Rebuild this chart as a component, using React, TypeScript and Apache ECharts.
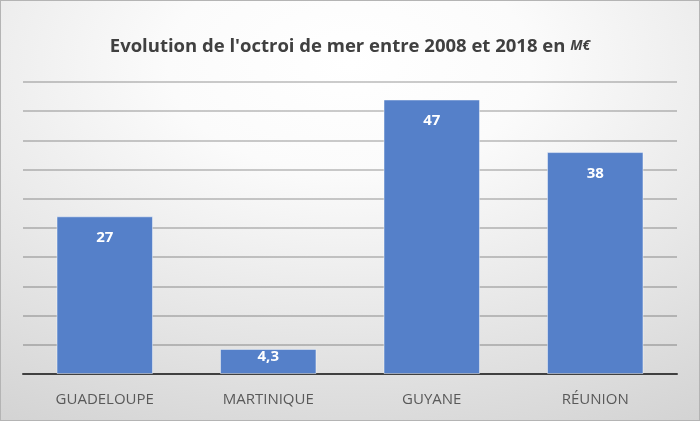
import React, { useEffect, useRef } from "react";
import * as echarts from "echarts";

const categories = ["GUADELOUPE", "MARTINIQUE", "GUYANE", "RÉUNION"];
const values = [27, 4.3, 47, 38];
const titleText = "Evolution de l'octroi de mer entre 2008 et 2018 en ";
const titleUnit = "M€";
const yMin = 0;
const yMax = 50;
const yInterval = 5;

export default function App() {
  const ref = useRef<HTMLDivElement>(null);
  useEffect(() => {
    if (!ref.current) return;
    const chart = echarts.init(ref.current, undefined, { renderer: "svg" });
    const font = "'Open Sans', 'Liberation Sans', sans-serif";
    chart.setOption({
      animation: false,
      title: {
        text: "{a|" + titleText + "}{b|" + titleUnit + "}",
        left: "center",
        top: 30,
        textStyle: {
          rich: {
            a: { fontFamily: font, fontSize: 18.5, fontWeight: "bold", color: "#404040" },
            b: { fontFamily: font, fontSize: 14, fontStyle: "italic", fontWeight: "bold", color: "#404040" },
          },
        },
      },
      graphic: [
        {
          type: "rect",
          z: -10,
          silent: true,
          shape: { x: 0, y: 0, width: 700, height: 421 },
          style: {
            fill: new echarts.graphic.RadialGradient(0.5, 0.15, 1.3, [
              { offset: 0, color: "#ffffff" },
              { offset: 0.2, color: "#fbfbfb" },
              { offset: 1, color: "#c2c2c2" },
            ]),
            stroke: "#b4b4b4",
            lineWidth: 2,
          },
        },
      ],
      grid: { left: 23, right: 23, top: 82, bottom: 47, containLabel: false },
      xAxis: {
        type: "category",
        data: categories,
        axisLine: { lineStyle: { color: "#404040", width: 2 } },
        axisTick: { show: false },
        axisLabel: { fontFamily: font, fontSize: 15, color: "#595959", margin: 16 },
      },
      yAxis: {
        type: "value",
        min: yMin,
        max: yMax,
        interval: yInterval,
        axisLabel: { show: false },
        axisLine: { show: false },
        axisTick: { show: false },
        splitLine: { lineStyle: { color: "rgba(0,0,0,0.2)", width: 2 } },
      },
      series: [
        {
          type: "bar",
          barWidth: "59%",
          data: values.map((v) => ({
            value: v,
            label: v < 10 ? { position: "insideTop", distance: -1 } : undefined,
          })),
          itemStyle: {
            color: "#5580c9",
            borderColor: "rgba(255,255,255,0.45)",
            borderWidth: 1,
          },
          label: {
            show: true,
            position: "insideTop",
            distance: 12,
            fontFamily: font,
            fontSize: 15,
            fontWeight: "bold",
            color: "#ffffff",
            formatter: (p: any) => String(p.value).replace(".", ","),
          },
        },
      ],
    });
    return () => chart.dispose();
  }, []);
  return (
    <div
      ref={ref}
      style={{ position: "fixed", left: 0, top: 0, width: 700, height: 421 }}
    />
  );
}
